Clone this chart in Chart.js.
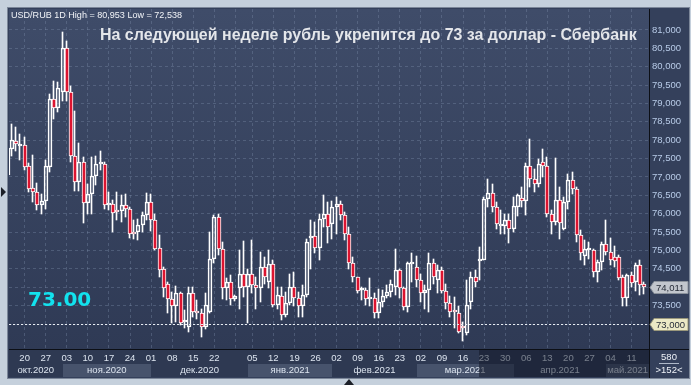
<!DOCTYPE html>
<html lang="ru">
<head>
  <meta charset="UTF-8" />
  <title>USD/RUB 1D</title>
  <style>
    html, body { margin: 0; padding: 0; background: #c5d0dc; }
    #wrap { width: 691px; height: 385px; }
  </style>
  <script src="https://cdn.jsdelivr.net/npm/chart.js"></script>
</head>
<body>
<div id="wrap"><canvas id="usdrub" width="691" height="385"></canvas></div>

<script>
  // month names for the lower axis row and the trading days in each month
  const months = ["окт.2020", "ноя.2020", "дек.2020", "янв.2021", "фев.2021", "мар.2021", "апр.2021", "май.2021"];
  const monthYM = [[2020, 9], [2020, 10], [2020, 11], [2021, 0], [2021, 1], [2021, 2], [2021, 3], [2021, 4]];
  const monthDays = [
    [14, 15, 16, 19, 20, 21, 22, 23, 26, 27, 28, 29, 30],
    [2, 3, 4, 5, 6, 9, 10, 11, 12, 13, 16, 17, 18, 19, 20, 23, 24, 25, 26, 27, 30],
    [1, 2, 3, 4, 7, 8, 9, 10, 11, 14, 15, 16, 17, 18, 21, 22, 23, 24, 25, 28, 29, 30, 31],
    [4, 5, 6, 7, 8, 11, 12, 13, 14, 15, 18, 19, 20, 21, 22, 25, 26, 27, 28, 29],
    [1, 2, 3, 4, 5, 8, 9, 10, 11, 12, 15, 16, 17, 18, 19, 22, 23, 24, 25, 26],
    [1, 2, 3, 4, 5, 8, 9, 10, 11, 12, 15, 16, 17, 18, 19, 22, 23, 24, 25, 26, 29, 30, 31],
    [1, 2, 5, 6, 7, 8, 9, 12, 13, 14, 15, 16, 19, 20, 21, 22, 23, 26, 27, 28, 29, 30],
    [3, 4, 5, 6, 7, 10, 11, 12, 13, 14]
  ];

  // daily candles
  const opens = [77.05,77.76,77.97,77.83,77.86,77.29,76.71,76.59,76.23,76.36,
    77.27,79.12,78.88,79.30,80.50,79.30,77.58,76.86,77.40,76.29,
    76.54,77.04,77.34,77.36,76.23,76.27,76.05,76.07,76.23,76.14,
    75.50,75.49,75.69,75.96,76.32,75.82,75.08,74.51,74.08,73.67,
    73.49,73.83,73.05,72.93,73.85,73.35,73.29,72.93,73.33,74.78,
    75.91,75.03,73.97,74.13,73.67,73.97,74.37,74.01,74.37,74.06,
    73.97,74.56,74.15,74.62,73.52,73.76,73.24,73.58,74.01,73.70,
    73.49,73.79,75.35,75.39,75.07,75.87,76.00,75.71,76.18,76.27,
    75.96,75.46,74.66,74.27,73.92,73.92,73.67,73.72,73.29,73.61,
    73.76,73.88,74.01,74.46,73.97,73.45,74.63,74.56,74.21,73.83,
    73.92,74.65,74.19,74.46,73.90,73.56,73.35,73.31,72.90,72.76,
    73.61,74.27,74.72,74.75,76.41,76.57,76.18,75.66,75.66,75.82,
    75.59,76.18,76.44,76.35,77.29,76.95,76.82,77.40,77.29,75.98,
    75.78,76.38,75.59,76.32,76.92,76.68,75.41,74.84,75.00,75.01,
    74.42,74.69,75.17,74.96,74.81,74.81,74.28,73.72,74.33,74.15,
    74.60,74.08];
  const highs = [77.81,78.44,78.37,78.17,78.08,77.38,77.61,76.83,76.54,77.45,
    79.27,79.62,79.59,80.953,80.69,79.48,78.80,77.92,77.54,76.82,
    77.54,77.56,77.72,77.40,76.59,76.38,76.59,76.50,76.54,76.18,
    75.82,75.87,76.05,76.56,76.54,76.00,75.41,74.56,74.15,73.88,
    74.04,73.88,73.38,74.01,74.01,73.65,73.42,73.85,75.50,75.96,
    76.00,75.23,74.24,74.33,73.79,75.00,75.26,74.51,75.28,74.28,
    74.96,74.83,75.01,74.75,74.01,74.01,73.88,74.37,74.42,73.88,
    74.06,75.32,75.82,75.78,76.00,76.50,76.32,76.36,76.45,76.34,
    76.05,75.64,74.81,74.28,74.01,73.97,74.24,73.83,73.94,73.92,
    74.06,74.19,75.05,74.51,74.01,74.69,74.92,74.84,74.37,74.06,
    74.93,74.78,74.60,74.56,74.08,73.76,73.74,73.49,73.06,74.21,
    74.42,74.46,75.10,76.45,76.95,76.81,76.32,76.09,76.00,76.00,
    76.45,76.54,76.74,77.38,78.04,77.22,77.49,77.76,77.54,76.09,
    77.52,76.72,76.45,77.09,77.13,76.72,75.55,75.28,75.23,75.05,
    74.74,75.23,75.84,75.35,75.12,74.87,74.33,74.36,74.42,74.65,
    74.75,74.15];
  const lows = [77.01,77.58,77.70,77.45,77.18,76.59,76.32,76.09,76.00,76.14,
    77.13,78.58,78.76,79.08,79.08,77.40,76.63,76.63,75.75,76.00,
    75.98,76.77,77.18,76.14,76.11,75.50,75.84,75.78,75.91,75.35,
    75.32,75.28,75.50,75.82,75.53,75.00,74.28,73.74,73.29,73.02,
    73.06,72.97,72.88,72.79,73.20,73.14,72.64,72.86,73.29,74.65,
    74.87,73.67,73.65,73.52,73.63,73.42,73.74,73.04,73.83,73.40,
    73.61,74.10,73.97,73.47,73.42,73.11,73.18,73.52,73.49,73.20,
    73.18,73.74,74.51,74.92,74.75,75.64,75.21,75.32,75.46,75.84,
    75.28,74.51,74.15,73.83,73.65,73.52,73.50,73.15,73.15,73.47,
    73.70,73.74,73.79,73.70,73.38,73.33,74.15,74.01,73.61,73.40,
    73.33,74.10,73.83,73.85,73.42,73.18,72.88,72.75,72.538,72.70,
    73.42,74.01,74.19,74.74,76.18,76.05,75.59,75.46,75.46,75.21,
    75.50,75.93,76.18,75.96,76.72,76.59,76.72,77.00,75.91,75.46,
    75.69,75.32,75.55,76.14,76.54,75.23,74.74,74.60,74.78,74.28,
    74.15,74.46,74.87,74.60,74.56,74.19,73.49,73.49,74.01,73.90,
    73.79,73.81];
  const closes = [77.78,78.01,77.90,77.86,77.27,76.68,76.59,76.23,76.36,77.29,
    79.12,78.88,79.42,80.50,79.30,77.58,76.86,77.40,76.29,76.54,
    77.04,77.36,77.41,76.23,76.29,76.02,76.04,76.23,76.14,75.46,
    75.46,75.69,75.96,76.32,75.82,75.05,74.48,73.97,73.67,73.49,
    73.83,73.02,73.08,73.85,73.33,73.29,72.93,73.52,74.78,75.91,
    75.03,73.97,74.15,73.67,73.76,74.37,74.01,74.37,74.06,73.97,
    74.56,74.28,74.62,73.52,73.79,73.24,73.58,74.01,73.70,73.49,
    73.79,75.23,75.39,75.07,75.87,76.00,75.64,76.18,76.27,75.96,
    75.46,74.66,74.27,73.90,73.92,73.67,73.74,73.29,73.61,73.76,
    73.88,74.08,74.46,73.97,73.45,74.65,74.69,74.21,73.85,73.92,
    74.65,74.28,74.46,73.90,73.56,73.33,73.33,72.79,72.88,73.52,
    74.27,74.15,74.76,76.41,76.57,76.18,75.73,75.73,75.84,75.59,
    76.20,76.50,76.35,77.29,76.95,76.82,77.36,77.29,75.98,75.78,
    76.38,75.75,76.32,76.92,76.68,75.41,74.93,75.03,75.03,74.42,
    74.69,75.19,74.96,74.74,74.72,74.24,73.72,74.33,74.12,74.60,
    74.06,74.011];

  const yTicks = [73, 73.5, 74, 74.5, 75, 75.5, 76, 76.5, 77, 77.5, 78, 78.5, 79, 79.5, 80, 80.5, 81];
  const hiddenTickLabels = ["29.12"];
  const lastPrice = 74.011;
  const targetLevel = 73.0;
  const headerText = "USD/RUB 1D High = 80,953 Low = 72,538";
  const titleText = "На следующей неделе рубль укрепится до 73 за доллар - Сбербанк";
  const barsTotal = "580";
  const barsShown = ">152<";

  // build the day list, weekly ticks (tuesdays) and month starts
  const days = [];
  const monthStart = [];
  monthDays.forEach((list, m) => {
    monthStart.push(days.length + 1);
    list.forEach(d => days.push(new Date(monthYM[m][0], monthYM[m][1], d)));
  });
  const tickIdx = [];
  const tickText = {};
  days.forEach((d, i) => {
    if (d.getDay() !== 2) return;
    const dd = String(d.getDate()).padStart(2, "0");
    const mm = String(d.getMonth() + 1).padStart(2, "0");
    tickIdx.push(i + 1);
    tickText[i + 1] = hiddenTickLabels.includes(dd + "." + mm) ? "" : dd;
  });

  const bodies = opens.map((o, i) => ({ x: i + 1, y: [o, closes[i]] }));
  const upperWicks = opens.map((o, i) => ({ x: i + 1, y: [Math.max(o, closes[i]), highs[i]] }));
  const lowerWicks = opens.map((o, i) => ({ x: i + 1, y: [lows[i], Math.min(o, closes[i])] }));
  const bodyColors = opens.map((o, i) => closes[i] < o ? "#dc1430" : "rgba(0,0,0,0)");

  const fmt = v => v.toFixed(3).replace(".", ",");

  function fitFont(ctx, text, weight, family, guess, width) {
    ctx.font = weight + " " + guess + "px " + family;
    const w = ctx.measureText(text).width;
    const size = guess * width / w;
    ctx.font = weight + " " + size.toFixed(2) + "px " + family;
  }

  function priceBox(ctx, y, fill, stroke, text) {
    ctx.beginPath();
    ctx.moveTo(650, y);
    ctx.lineTo(654, y - 6);
    ctx.lineTo(688, y - 6);
    ctx.lineTo(688, y + 6);
    ctx.lineTo(654, y + 6);
    ctx.closePath();
    ctx.fillStyle = fill;
    ctx.fill();
    ctx.strokeStyle = stroke;
    ctx.lineWidth = 1;
    ctx.stroke();
    ctx.fillStyle = "#262c38";
    ctx.font = "9.5px 'Liberation Sans', Arial, sans-serif";
    ctx.textAlign = "left";
    ctx.textBaseline = "middle";
    ctx.fillText(text, 656, y + 0.5);
  }

  // snap candle parts to whole pixels so outlines stay crisp
  const pixelSnap = {
    id: "pixelSnap",
    afterDatasetsUpdate(chart) {
      chart.data.datasets.forEach((ds, di) => {
        chart.getDatasetMeta(di).data.forEach(el => {
          const c = Math.round(el.x);
          el.x = el.width < 2 ? c - 0.5 : c;
          el.y = Math.round(el.y);
          el.base = Math.round(el.base);
        });
      });
    }
  };

  const terminalLook = {
    id: "terminalLook",
    beforeDraw(chart) {
      const { ctx, chartArea: a, width, height } = chart;
      const xs = chart.scales.x;
      ctx.save();
      ctx.fillStyle = "#c5d0dc";
      ctx.fillRect(0, 0, width, height);
      ctx.fillStyle = "#34405b";
      ctx.fillRect(8, 8, 681, 370);
      ctx.strokeStyle = "#7c8799";
      ctx.strokeRect(7.5, 7.5, 682, 371);

      const g = ctx.createLinearGradient(0, a.top, 0, a.bottom);
      g.addColorStop(0, "#3f4c69");
      g.addColorStop(1, "#2f3a55");
      ctx.fillStyle = g;
      ctx.fillRect(a.left, a.top, a.right - a.left, a.bottom - a.top);

      // lower axis strip with month bands
      ctx.fillStyle = "#2e3952";
      ctx.fillRect(a.left, a.bottom, a.right - a.left, 28);
      monthStart.forEach((s, m) => {
        const x0 = Math.max(a.left, xs.getPixelForValue(s));
        const x1 = m + 1 < monthStart.length ? xs.getPixelForValue(monthStart[m + 1]) : a.right;
        if (m % 2 === 1) {
          ctx.fillStyle = "#47536c";
          ctx.fillRect(Math.round(x0), 364, Math.round(x1) - Math.round(x0), 13);
        }
      });
      ctx.restore();
    },
    afterDraw(chart) {
      const { ctx, chartArea: a } = chart;
      const xs = chart.scales.x;
      const ys = chart.scales.y;
      ctx.save();

      // level line at 73
      const yT = Math.round(ys.getPixelForValue(targetLevel)) + 0.5;
      ctx.strokeStyle = "#e8ecf2";
      ctx.setLineDash([2, 2]);
      ctx.beginPath();
      ctx.moveTo(a.left, yT);
      ctx.lineTo(a.right, yT);
      ctx.stroke();
      ctx.setLineDash([]);

      // month names
      ctx.font = "9.5px 'Liberation Sans', Arial, sans-serif";
      ctx.fillStyle = "#dce4ef";
      ctx.textAlign = "center";
      ctx.textBaseline = "middle";
      monthStart.forEach((s, m) => {
        const x0 = Math.max(a.left, xs.getPixelForValue(s));
        const x1 = m + 1 < monthStart.length ? xs.getPixelForValue(monthStart[m + 1]) : a.right;
        ctx.fillText(months[m], (x0 + x1) / 2, 370);
      });

      // dimmed part of the time axis
      ctx.fillStyle = "rgba(16,22,38,0.5)";
      ctx.fillRect(479, a.bottom + 1, a.right - 479, 27);

      // frame lines
      ctx.strokeStyle = "#0c0f16";
      ctx.beginPath();
      ctx.moveTo(a.right + 0.5, a.top);
      ctx.lineTo(a.right + 0.5, 378);
      ctx.moveTo(a.left, a.bottom + 0.5);
      ctx.lineTo(689, a.bottom + 0.5);
      ctx.stroke();

      // bar counter box
      ctx.fillStyle = "#eef2f8";
      ctx.font = "9.5px 'Liberation Sans', Arial, sans-serif";
      ctx.textAlign = "center";
      ctx.fillText(barsTotal, 669, 357.5);
      ctx.fillText(barsShown, 669, 370.5);
      ctx.strokeStyle = "#aeb8c8";
      ctx.beginPath();
      ctx.moveTo(659, 363.5);
      ctx.lineTo(679, 363.5);
      ctx.stroke();

      // price tags on the right scale
      priceBox(ctx, Math.round(ys.getPixelForValue(lastPrice)) + 0.5, "#c2c6cd", "#8b929c", fmt(lastPrice));
      priceBox(ctx, Math.round(ys.getPixelForValue(targetLevel)) + 0.5, "#ebe9c6", "#9a987c", fmt(targetLevel));

      // texts on the chart
      ctx.textAlign = "left";
      ctx.textBaseline = "alphabetic";
      ctx.fillStyle = "#f2f4f8";
      fitFont(ctx, headerText, "normal", "'Liberation Sans', Arial, sans-serif", 10, 171);
      ctx.fillText(headerText, 11, 18);

      ctx.fillStyle = "#e4e6ea";
      fitFont(ctx, titleText, "bold", "'Liberation Sans', Arial, sans-serif", 15, 537);
      ctx.fillText(titleText, 100, 40);

      ctx.fillStyle = "#12e2ee";
      ctx.font = "bold 20px 'DejaVu Sans', sans-serif";
      ctx.fillText(targetLevel.toFixed(2), 28, 306);

      // small arrows on the outer frame
      ctx.fillStyle = "#1c2028";
      ctx.beginPath();
      ctx.moveTo(1, 187);
      ctx.lineTo(6, 192);
      ctx.lineTo(1, 197);
      ctx.closePath();
      ctx.fill();
      ctx.beginPath();
      ctx.moveTo(344, 385);
      ctx.lineTo(349, 379);
      ctx.lineTo(354, 385);
      ctx.closePath();
      ctx.fill();
      ctx.restore();
    }
  };

  const ctx = document.getElementById("usdrub").getContext("2d");
  const chart = new Chart(ctx, {
    type: "bar",
    data: {
      datasets: [
        {
          label: "body",
          data: bodies,
          backgroundColor: bodyColors,
          borderColor: "#ffffff",
          borderWidth: 1,
          borderSkipped: false,
          minBarLength: 2,
          grouped: false,
          barThickness: 4,
          maxBarThickness: 4
        },
        {
          label: "upper",
          data: upperWicks,
          backgroundColor: "#ffffff",
          borderWidth: 0,
          grouped: false,
          barThickness: 1,
          maxBarThickness: 1
        },
        {
          label: "lower",
          data: lowerWicks,
          backgroundColor: "#ffffff",
          borderWidth: 0,
          grouped: false,
          barThickness: 1,
          maxBarThickness: 1
        }
      ]
    },
    options: {
      responsive: false,
      animation: false,
      events: [],
      layout: { padding: { left: 9, top: 9, right: 2, bottom: 8 } },
      plugins: {
        legend: { display: false },
        tooltip: { enabled: false }
      },
      scales: {
        x: {
          type: "linear",
          bounds: "data",
          min: 1.288,
          max: 153.12,
          offset: false,
          grid: { color: "rgba(130,145,175,0.35)", drawTicks: false, offset: false },
          border: { display: true, color: "#0c0f16", width: 1, dash: [3, 3] },
          afterBuildTicks: scale => { scale.ticks = tickIdx.map(v => ({ value: v })); },
          afterFit: scale => { scale.height = 28; },
          ticks: {
            autoSkip: false,
            maxRotation: 0,
            padding: 4,
            color: "#dce4ef",
            font: { family: "'Liberation Sans', Arial, sans-serif", size: 9.5 },
            callback: value => tickText[value]
          }
        },
        y: {
          position: "right",
          bounds: "data",
          min: 72.32,
          max: 81.57,
          grid: { color: "rgba(130,145,175,0.35)", drawTicks: false },
          border: { display: true, color: "#0c0f16", width: 1, dash: [3, 3] },
          afterBuildTicks: scale => { scale.ticks = yTicks.map(v => ({ value: v })); },
          afterFit: scale => { scale.width = 40; },
          ticks: {
            padding: 3,
            color: "#b8cbe8",
            font: { family: "'Liberation Sans', Arial, sans-serif", size: 9.5 },
            callback: value => fmt(value)
          }
        }
      }
    },
    plugins: [pixelSnap, terminalLook]
  });
</script>
</body>
</html>
